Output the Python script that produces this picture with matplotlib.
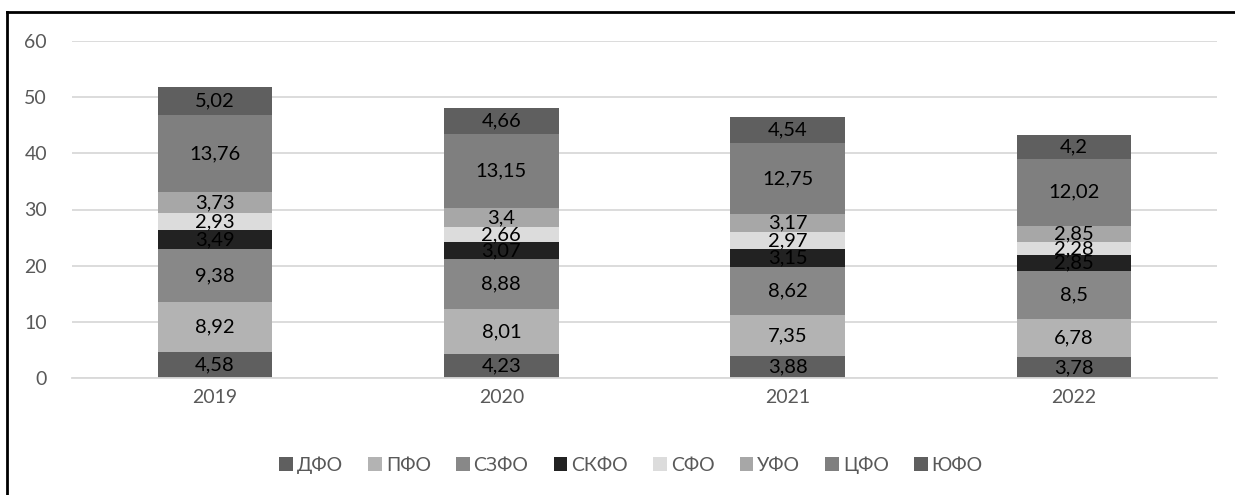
import matplotlib
matplotlib.use("Agg")
import matplotlib.pyplot as plt
from matplotlib.lines import Line2D
import numpy as np

plt.rcParams['font.family'] = ['Lato', 'DejaVu Sans']

years = ["2019", "2020", "2021", "2022"]
districts = ["ДФО", "ПФО", "СЗФО", "СКФО", "СФО", "УФО", "ЦФО", "ЮФО"]
dfo = [4.58, 4.23, 3.88, 3.78]
pfo = [8.92, 8.01, 7.35, 6.78]
szfo = [9.38, 8.88, 8.62, 8.5]
skfo = [3.49, 3.07, 3.15, 2.85]
sfo = [2.93, 2.66, 2.97, 2.28]
ufo = [3.73, 3.4, 3.17, 2.85]
cfo = [13.76, 13.15, 12.75, 12.02]
yufo = [5.02, 4.66, 4.54, 4.2]

series = [dfo, pfo, szfo, skfo, sfo, ufo, cfo, yufo]
colors = ["#5f5f5f", "#b3b3b3", "#888888", "#222222",
          "#dcdcdc", "#a7a7a7", "#7f7f7f", "#5f5f5f"]

fig = plt.figure(figsize=(12.35, 4.95), dpi=100)
ax = fig.add_axes([72 / 1235, 1 - 378 / 495, 1145 / 1235, 337 / 495])

x = np.arange(len(years))
bottom = np.zeros(len(years))
for name, vals, col in zip(districts, series, colors):
    vals = np.array(vals)
    ax.bar(x, vals, bottom=bottom, width=0.4, color=col, label=name, zorder=2)
    for xi, b, v in zip(x, bottom, vals):
        ax.text(xi, b + v / 2, str(v).replace(".", ","), ha="center",
                va="center", fontsize=14.5, color="#000000", zorder=3)
    bottom += vals

ax.set_xlim(-0.5, len(years) - 0.5)
ax.set_ylim(0, 60)
ax.set_yticks(range(0, 61, 10))
ax.set_xticks(x)
ax.set_xticklabels(years)
ax.yaxis.grid(True, color="#d9d9d9", linewidth=1.3, zorder=0)
ax.set_axisbelow(True)
for s in ["top", "right", "left"]:
    ax.spines[s].set_visible(False)
ax.spines["bottom"].set_color("#d9d9d9")
ax.spines["bottom"].set_linewidth(1.3)
ax.tick_params(axis="both", length=0, labelsize=14, colors="#595959")
ax.tick_params(axis="y", pad=18)
ax.tick_params(axis="x", pad=8)

leg = fig.legend(loc="center", bbox_to_anchor=(631 / 1235, 1 - 465 / 495),
                 ncol=8, frameon=False, fontsize=14, handlelength=0.7,
                 handleheight=0.7, handletextpad=0.2, columnspacing=1.3)
for t in leg.get_texts():
    t.set_color("#595959")

# outer frame lines (top and left)
fig.add_artist(Line2D([7 / 1235, 1], [1 - 12 / 495, 1 - 12 / 495],
                      color="black", linewidth=2, transform=fig.transFigure))
fig.add_artist(Line2D([7 / 1235, 7 / 1235], [0, 1 - 12 / 495],
                      color="black", linewidth=2, transform=fig.transFigure))

fig.savefig("out.png", dpi=100)
